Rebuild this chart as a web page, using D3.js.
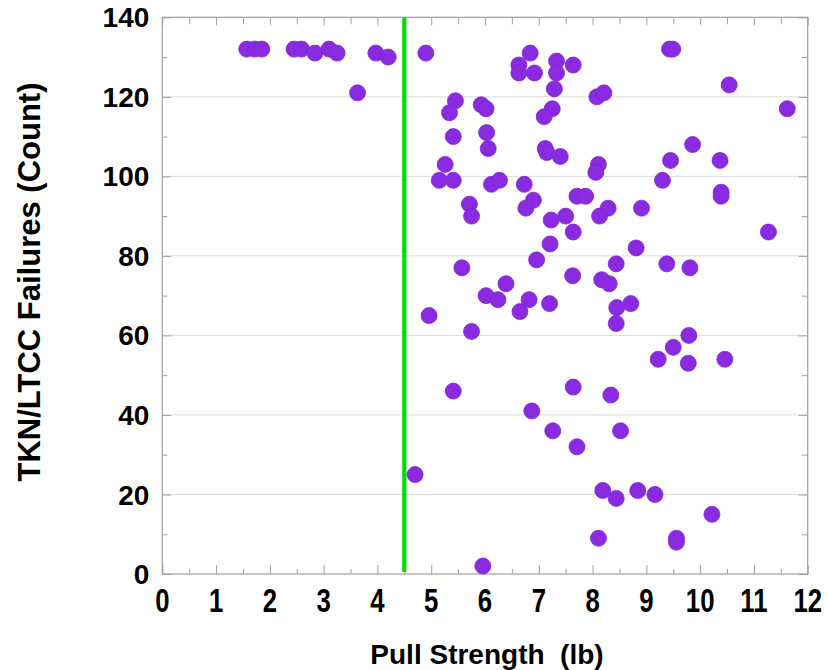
<!DOCTYPE html>
<html>
<head>
<meta charset="utf-8">
<script src="https://cdn.jsdelivr.net/npm/d3@7"></script>
<style>
  html, body { margin: 0; padding: 0; background: #fff; }
  svg { display: block; }
</style>
</head>
<body>
<svg id="chart" width="828" height="670"></svg>
<script>
// Pull strength (lb) of each sample
const pullStrength = [
  1.57, 1.72, 1.85, 2.45, 2.59, 2.84, 3.10, 3.25, 3.63, 3.97, 4.20, 4.90,
  6.84, 6.63, 6.63, 6.92, 7.33, 7.33, 7.64, 7.29, 8.08, 8.21,
  5.45, 5.34, 5.93, 6.02, 7.25, 7.10, 5.41, 6.03, 6.06, 7.12, 7.15, 7.40,
  5.26, 5.15, 5.41, 6.12, 6.27, 6.73, 6.90, 6.76, 5.71, 5.75, 7.71, 7.87,
  8.11, 8.06, 7.23, 7.50, 7.64, 8.29, 8.13, 7.21, 6.96, 5.57, 7.63,
  9.43, 9.49, 10.54, 11.62, 9.86, 9.45, 10.37, 9.30, 10.39, 10.39, 8.91,
  11.27, 8.81, 8.44, 9.38, 9.81, 6.39, 6.02, 6.24, 6.82, 6.65, 7.20,
  4.96, 5.75, 5.41, 7.64, 6.87, 7.26, 7.71, 4.70, 5.96, 8.19, 8.11,
  8.17, 8.31, 8.45, 8.71, 8.44, 9.79, 9.50, 9.22, 9.78, 10.46,
  8.34, 8.52, 8.44, 8.84, 9.16, 10.22, 9.56, 9.56
];
// TKN/LTCC failure count for the same samples
const failures = [
  132, 132, 132, 132, 132, 131, 132, 131, 121, 131, 130, 131,
  131, 128, 126, 126, 129, 126, 128, 122, 120, 121,
  119, 116, 118, 117, 117, 115, 110, 111, 107, 107, 106, 105,
  103, 99, 99, 98, 99, 98, 94, 92, 93, 90, 95, 95,
  103, 101, 89, 90, 86, 92, 90, 83, 79, 77, 75,
  132, 132, 123, 117, 108, 104, 104, 99, 96, 95, 92,
  86, 82, 78, 78, 77, 73, 70, 69, 69, 66, 68,
  65, 61, 46, 47, 41, 36, 32, 25, 2, 21, 9,
  74, 73, 67, 68, 63, 60, 57, 54, 53, 54,
  45, 36, 19, 21, 20, 15, 9, 8
];
// Specification limit on pull strength
const pullLimit = [4.5];

const xTicks = d3.range(0, 13, 1);
const xMinorTicks = d3.range(0.5, 12, 1);
const yTicks = d3.range(0, 141, 20);
const yMinorTicks = d3.range(10, 140, 20);
const gridValues = [20, 40, 60, 80, 100, 120];

const xTitle = "Pull Strength  (lb)";
const yTitle = "TKN/LTCC Failures (Count)";

const svg = d3.select("#chart");
const plotLeft = 162.3, plotRight = 807.7, plotTop = 17.3, plotBottom = 574;

const x = d3.scaleLinear().domain([0, 12]).range([plotLeft, plotRight]);
const y = d3.scaleLinear().domain([0, 140]).range([plotBottom, plotTop]);

const frameColor = "#a0a0a0";

// horizontal gridlines
svg.append("g")
  .selectAll("line")
  .data(gridValues)
  .join("line")
  .attr("x1", plotLeft).attr("x2", plotRight)
  .attr("y1", d => y(d)).attr("y2", d => y(d))
  .attr("stroke", "#dcdcdc")
  .attr("stroke-width", 1);

// inward ticks on all four sides
function ticks(g, axis, values, size) {
  g.call(axis.tickValues(values).tickSize(size).tickFormat(""))
    .call(s => s.select(".domain").remove())
    .call(s => s.selectAll(".tick line").attr("stroke", frameColor));
}
svg.append("g").attr("transform", `translate(0,${plotBottom})`)
  .call(g => ticks(g, d3.axisTop(x), xTicks, 9));
svg.append("g").attr("transform", `translate(0,${plotBottom})`)
  .call(g => ticks(g, d3.axisTop(x), xMinorTicks, 5));
svg.append("g").attr("transform", `translate(0,${plotTop})`)
  .call(g => ticks(g, d3.axisBottom(x), xTicks, 8));
svg.append("g").attr("transform", `translate(0,${plotTop})`)
  .call(g => ticks(g, d3.axisBottom(x), xMinorTicks, 7));
svg.append("g").attr("transform", `translate(${plotLeft},0)`)
  .call(g => ticks(g, d3.axisRight(y), yTicks, 9));
svg.append("g").attr("transform", `translate(${plotLeft},0)`)
  .call(g => ticks(g, d3.axisRight(y), yMinorTicks, 5));
svg.append("g").attr("transform", `translate(${plotRight},0)`)
  .call(g => ticks(g, d3.axisLeft(y), yTicks, 9));
svg.append("g").attr("transform", `translate(${plotRight},0)`)
  .call(g => ticks(g, d3.axisLeft(y), yMinorTicks, 6));

// frame
svg.append("rect")
  .attr("x", plotLeft).attr("y", plotTop)
  .attr("width", plotRight - plotLeft).attr("height", plotBottom - plotTop)
  .attr("fill", "none").attr("stroke", frameColor).attr("stroke-width", 1.2);

// tick labels
svg.append("g")
  .selectAll("text")
  .data(xTicks)
  .join("text")
  .attr("transform", d => `translate(${x(d)},${plotBottom + 38}) scale(0.78,1)`)
  .attr("text-anchor", "middle")
  .attr("font-family", "Liberation Sans, Arial, sans-serif")
  .attr("font-weight", "bold")
  .attr("font-size", 33)
  .attr("fill", "#000")
  .text(d => d);

svg.append("g")
  .selectAll("text")
  .data(yTicks)
  .join("text")
  .attr("x", plotLeft - 13)
  .attr("y", d => y(d))
  .attr("dy", "0.36em")
  .attr("text-anchor", "end")
  .attr("font-family", "Liberation Sans, Arial, sans-serif")
  .attr("font-weight", "bold")
  .attr("font-size", 28)
  .attr("fill", "#000")
  .text(d => d);

// axis titles
svg.append("text")
  .attr("x", 487).attr("y", 664)
  .attr("text-anchor", "middle")
  .attr("font-family", "Liberation Sans, Arial, sans-serif")
  .attr("font-weight", "bold")
  .attr("font-size", 28)
  .attr("fill", "#000")
  .style("white-space", "pre")
  .text(xTitle);

svg.append("text")
  .attr("transform", `translate(40,282) rotate(-90)`)
  .attr("text-anchor", "middle")
  .attr("font-family", "Liberation Sans, Arial, sans-serif")
  .attr("font-weight", "bold")
  .attr("font-size", 31)
  .attr("fill", "#000")
  .text(yTitle);

// limit line
svg.append("g")
  .selectAll("line")
  .data(pullLimit)
  .join("line")
  .attr("x1", d => x(d)).attr("x2", d => x(d))
  .attr("y1", plotTop).attr("y2", plotBottom - 2)
  .attr("stroke", "#00e000")
  .attr("stroke-width", 4.2);

// data points
const points = pullStrength.map((v, i) => ({ x: v, y: failures[i] }));
svg.append("g")
  .selectAll("circle")
  .data(points)
  .join("circle")
  .attr("cx", d => x(d.x))
  .attr("cy", d => y(d.y))
  .attr("r", 8)
  .attr("fill", "#8a2be2")
  .attr("stroke", "#7d25d6")
  .attr("stroke-width", 0.8);
</script>
</body>
</html>
